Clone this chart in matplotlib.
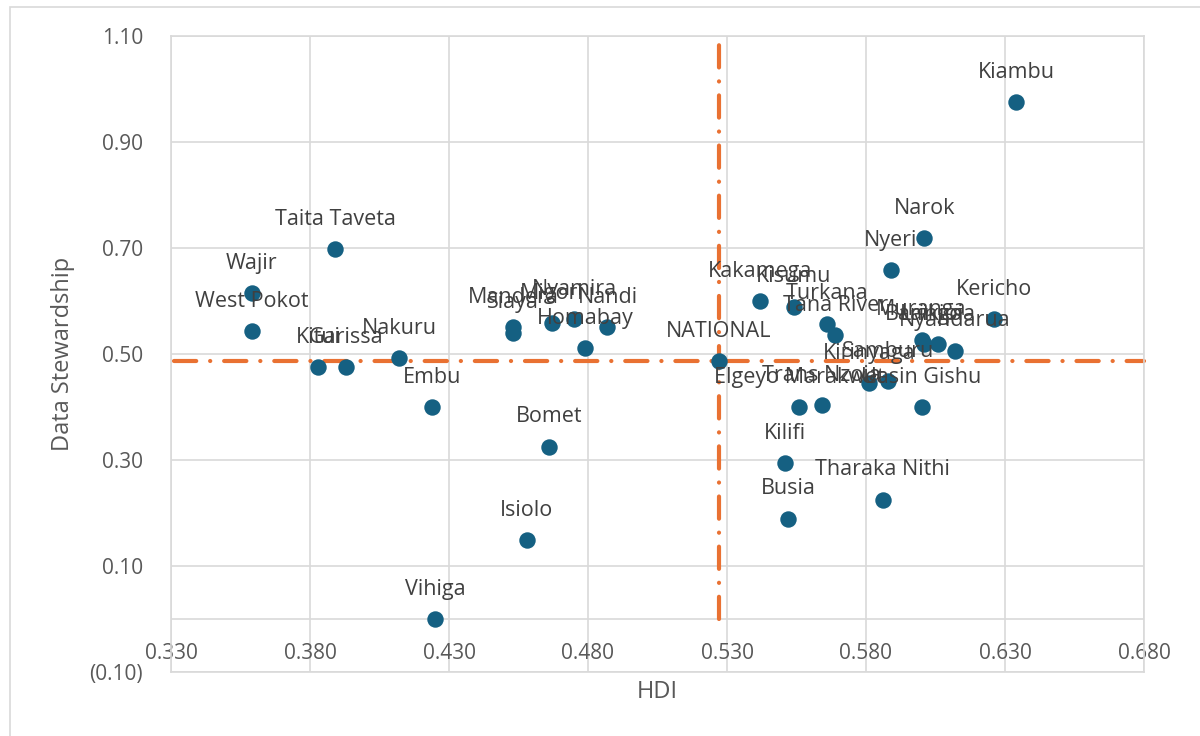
import matplotlib
matplotlib.use("Agg")
import matplotlib.pyplot as plt
from matplotlib.patches import Rectangle

counties = ["Kiambu", "Narok", "Nyeri", "Kericho", "Muranga", "Baringo", "Laikipia",
            "Nyandarua", "Samburu", "Kirinyaga", "Uasin Gishu", "Tharaka Nithi",
            "Kilifi", "Busia", "Elgeyo Marakwet", "Trans Nzoia", "Kakamega", "Kisumu",
            "Turkana", "Tana River", "NATIONAL", "Nandi", "Homabay", "Nyamira",
            "Migori", "Mandera", "Siaya", "Bomet", "Isiolo", "Vihiga", "Embu",
            "Nakuru", "Garissa", "Kitui", "Taita Taveta", "Wajir", "West Pokot"]
hdi = [0.634, 0.601, 0.589, 0.626, 0.600, 0.601, 0.606,
       0.612, 0.588, 0.581, 0.600, 0.586,
       0.551, 0.552, 0.556, 0.564, 0.542, 0.554,
       0.566, 0.569, 0.527, 0.487, 0.479, 0.475,
       0.467, 0.453, 0.453, 0.466, 0.458, 0.425, 0.424,
       0.412, 0.393, 0.383, 0.389, 0.359, 0.359]
stewardship = [0.975, 0.719, 0.658, 0.566, 0.527, 0.519, 0.519,
               0.506, 0.449, 0.445, 0.400, 0.225,
               0.294, 0.189, 0.400, 0.404, 0.600, 0.589,
               0.557, 0.536, 0.487, 0.551, 0.511, 0.566,
               0.558, 0.551, 0.540, 0.325, 0.149, 0.000, 0.400,
               0.492, 0.475, 0.475, 0.698, 0.615, 0.543]
national_hdi = 0.527
national_ds = 0.487
x_ticks = [0.330, 0.380, 0.430, 0.480, 0.530, 0.580, 0.630, 0.680]
y_ticks = [-0.10, 0.10, 0.30, 0.50, 0.70, 0.90, 1.10]
y_tick_labels = ["(0.10)", "0.10", "0.30", "0.50", "0.70", "0.90", "1.10"]

plt.rcParams['font.family'] = ['Open Sans', 'DejaVu Sans']
plt.rcParams['lines.scale_dashes'] = False

BLUE = "#156082"
ORANGE = "#E97132"
GRID = "#D9D9D9"
TXT = "#595959"
LBL = "#404040"

fig = plt.figure(figsize=(12, 7.36), dpi=100)
fig.patches.append(Rectangle((10/1200, -0.1), 1.2, (736-7)/736 + 0.1,
                             transform=fig.transFigure, fill=False,
                             edgecolor=GRID, linewidth=1.2))
ax = fig.add_axes([171/1200, 64/736, (1144-171)/1200, (672-36)/736])

ax.set_xlim(0.330, 0.680)
ax.set_ylim(-0.10, 1.10)
ax.set_xticks(x_ticks)
ax.set_xticklabels([f"{v:.3f}" for v in x_ticks])
ax.set_yticks(y_ticks)
ax.set_yticklabels(y_tick_labels)
ax.grid(True, color=GRID, linewidth=1.2, zorder=0)
ax.set_axisbelow(True)
for s in ax.spines.values():
    s.set_color(GRID)
    s.set_linewidth(1.2)
ax.axhline(0, color=GRID, linewidth=1.2, zorder=1)
ax.tick_params(axis='both', length=0, colors=TXT, labelsize=15)
ax.tick_params(axis='x', pad=-21)
ax.tick_params(axis='y', pad=20)

dash = (0, (16, 10, 0.1, 10))
ax.plot([national_hdi, national_hdi], [0.0, 1.10], color=ORANGE, linewidth=3,
        linestyle=dash, dash_capstyle='round', zorder=2, clip_on=False)
ax.plot([0.331, 0.680], [national_ds, national_ds], color=ORANGE, linewidth=3,
        linestyle=dash, dash_capstyle='round', zorder=2, clip_on=False)

ax.scatter(hdi, stewardship, s=140, color=BLUE, zorder=3, linewidths=0)
for name, x, y in zip(counties, hdi, stewardship):
    ax.annotate(name, (x, y), xytext=(0, 21.5), textcoords='offset points',
                ha='center', va='center', fontsize=15.5, color=LBL, zorder=4)

ax.set_xlabel("HDI", fontsize=17, color=TXT)
ax.xaxis.set_label_coords(0.5, -0.012)
ax.set_ylabel("Data Stewardship", fontsize=17, color=TXT)
ax.yaxis.set_label_coords(-0.099, 0.5)

fig.savefig("out.png", dpi=100)
